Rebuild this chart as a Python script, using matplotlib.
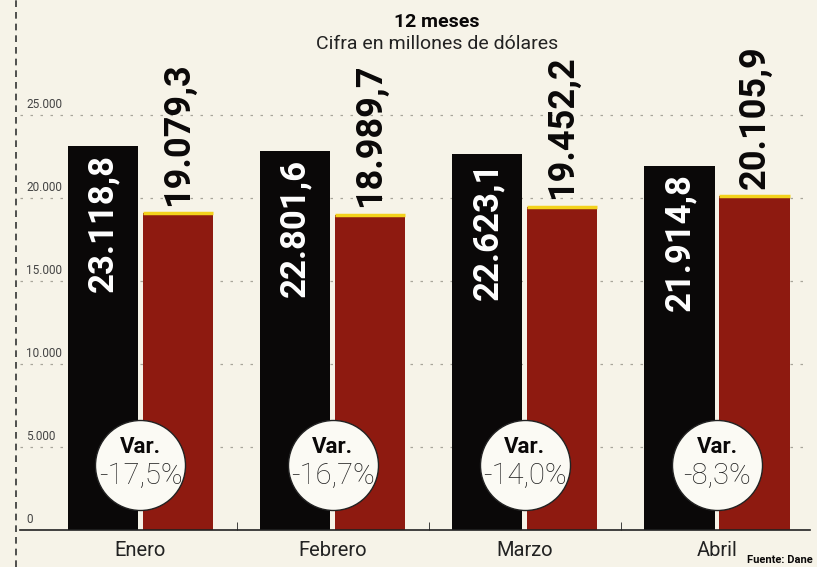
import matplotlib
matplotlib.use("Agg")
import matplotlib.pyplot as plt
import matplotlib.transforms as mtransforms
import numpy as np

months = ["Enero", "Febrero", "Marzo", "Abril"]
prev_year = [23118.8, 22801.6, 22623.1, 21914.8]
curr_year = [19079.3, 18989.7, 19452.2, 20105.9]
variation = ["-17,5%", "-16,7%", "-14,0%", "-8,3%"]
yticks = [0, 5000, 10000, 15000, 20000, 25000]
ytick_labels = ["0", "5.000", "10.000", "15.000", "20.000", "25.000"]

BG = "#f6f3e8"
BLACK = "#0a0808"
RED = "#8e1a10"
YELLOW = "#f3d21c"
FONT = ["Liberation Sans Narrow", "Roboto", "DejaVu Sans"]

def fmt(v):
    s = f"{v:,.1f}"
    return s.replace(",", "X").replace(".", ",").replace("X", ".")

fig = plt.figure(figsize=(8.17, 5.67), dpi=100, facecolor=BG)
ax = fig.add_axes([20/817, 37/567, 790/817, 465/567])
ax.set_facecolor(BG)

x = np.arange(len(months))
w = 0.365
off = 0.195
ax.bar(x - off, prev_year, w, color=BLACK, zorder=2)
ax.bar(x + off, curr_year, w, color=RED, zorder=2)
ax.hlines(curr_year, x + off - w/2, x + off + w/2, color=YELLOW, lw=2.5, zorder=3)

ax.set_xlim(-0.627, 3.484)
ax.set_ylim(0, 28000)

for v in yticks[1:]:
    ax.axhline(v, color="#a8a59a", lw=0.9, ls=(0, (2, 6)), zorder=1)

tr = mtransforms.blended_transform_factory(ax.transAxes, ax.transData)
for v, lab in zip(yticks, ytick_labels):
    ax.text(0.008, v + 250, lab, transform=tr, fontsize=8.5, color="#444",
            family=FONT, va="bottom", ha="left")

for xi, v in zip(x, prev_year):
    ax.text(xi - off, v - 450, fmt(v), rotation=90, ha="center", va="top",
            color="white", fontsize=25, fontweight="bold", family=FONT, zorder=4)
for xi, v in zip(x, curr_year):
    ax.text(xi + off, v + 450, fmt(v), rotation=90, ha="center", va="bottom",
            color=BLACK, fontsize=26, fontweight="bold", family=FONT, zorder=4)

circ_y = 3900
ax.scatter(x, [circ_y]*len(x), s=4200, facecolor="#fbfaf4", edgecolor="#222",
           linewidth=1.0, zorder=5)
for xi, var in zip(x, variation):
    ax.text(xi, circ_y + 1100, "Var.", ha="center", va="center", fontsize=16,
            fontweight="bold", color=BLACK, family=FONT, zorder=6)
    ax.text(xi, circ_y - 650, var, ha="center", va="center", fontsize=21,
            fontweight="light", color="#222", family=FONT, zorder=6)

for s in ["top", "right", "left"]:
    ax.spines[s].set_visible(False)
ax.spines["bottom"].set_color("#222")
ax.spines["bottom"].set_linewidth(1.2)
ax.set_yticks([])
ax.set_xticks(x)
ax.set_xticklabels(months, fontsize=14.5, family=FONT, color="#222")
ax.tick_params(axis="x", length=0, pad=8)
ax.set_xticks([0.5, 1.5, 2.5], minor=True)
ax.tick_params(axis="x", which="minor", direction="in", length=6, color="#222")

fig.add_artist(plt.Line2D([16/817, 16/817], [0, 1], color="#333", lw=1.2,
                          ls=(0, (4, 3))))

fig.text(0.535, 0.962, "12 meses", ha="center", va="center", fontsize=14,
         fontweight="bold", family=FONT, color=BLACK)
fig.text(0.535, 0.922, "Cifra en millones de dólares", ha="center", va="center",
         fontsize=14, family=FONT, color="#222")
fig.text(0.995, 0.004, "Fuente: Dane", ha="right", va="bottom", fontsize=8,
         fontweight="bold", family=FONT, color=BLACK)

fig.savefig("out.png", dpi=100, facecolor=BG)
